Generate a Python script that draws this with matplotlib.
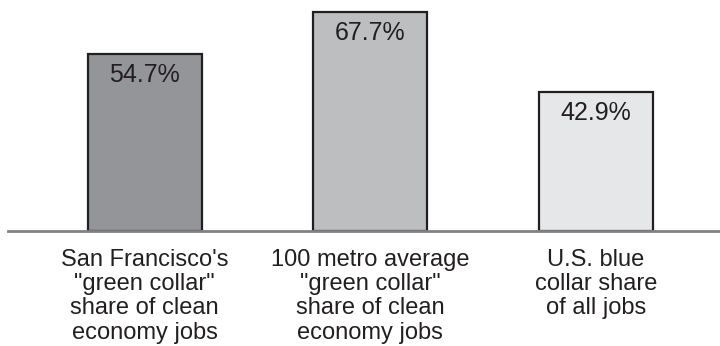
import matplotlib
matplotlib.use("Agg")
import matplotlib.pyplot as plt

categories = ["San Francisco's\n\"green collar\"\nshare of clean\neconomy jobs",
              "100 metro average\n\"green collar\"\nshare of clean\neconomy jobs",
              "U.S. blue\ncollar share\nof all jobs"]
values = [54.7, 67.7, 42.9]
value_labels = ["54.7%", "67.7%", "42.9%"]
colors = ["#939598", "#bcbec0", "#e6e7e8"]

plt.rcParams['font.family'] = ['Liberation Sans', 'DejaVu Sans']

fig = plt.figure(figsize=(7.2, 3.46), dpi=100)
ax = fig.add_axes([8/720, 1 - 231/346, 1 - 8/720, 231/346])
x = list(range(len(values)))
ax.bar(x, values, width=0.505, color=colors, edgecolor="#231f20", linewidth=1.6, zorder=2)
ax.set_xlim(-0.605, 2.549)
ax.set_ylim(0, 67.7 * 231 / 219)
for xi, v, lab in zip(x, values, value_labels):
    ax.annotate(lab, (xi, v), xytext=(0, -21), textcoords="offset pixels",
                ha="center", va="center", fontsize=18, color="#231f20")
for s in ["top", "right", "left"]:
    ax.spines[s].set_visible(False)
ax.spines["bottom"].set_color("#808285")
ax.spines["bottom"].set_linewidth(2)
ax.spines["bottom"].set_zorder(3)
ax.set_yticks([])
ax.set_xticks(x)
ax.set_xticklabels(categories, fontsize=17, color="#231f20", linespacing=1.13)
ax.tick_params(axis="x", length=0, pad=13)
fig.savefig("out.png", dpi=100)
